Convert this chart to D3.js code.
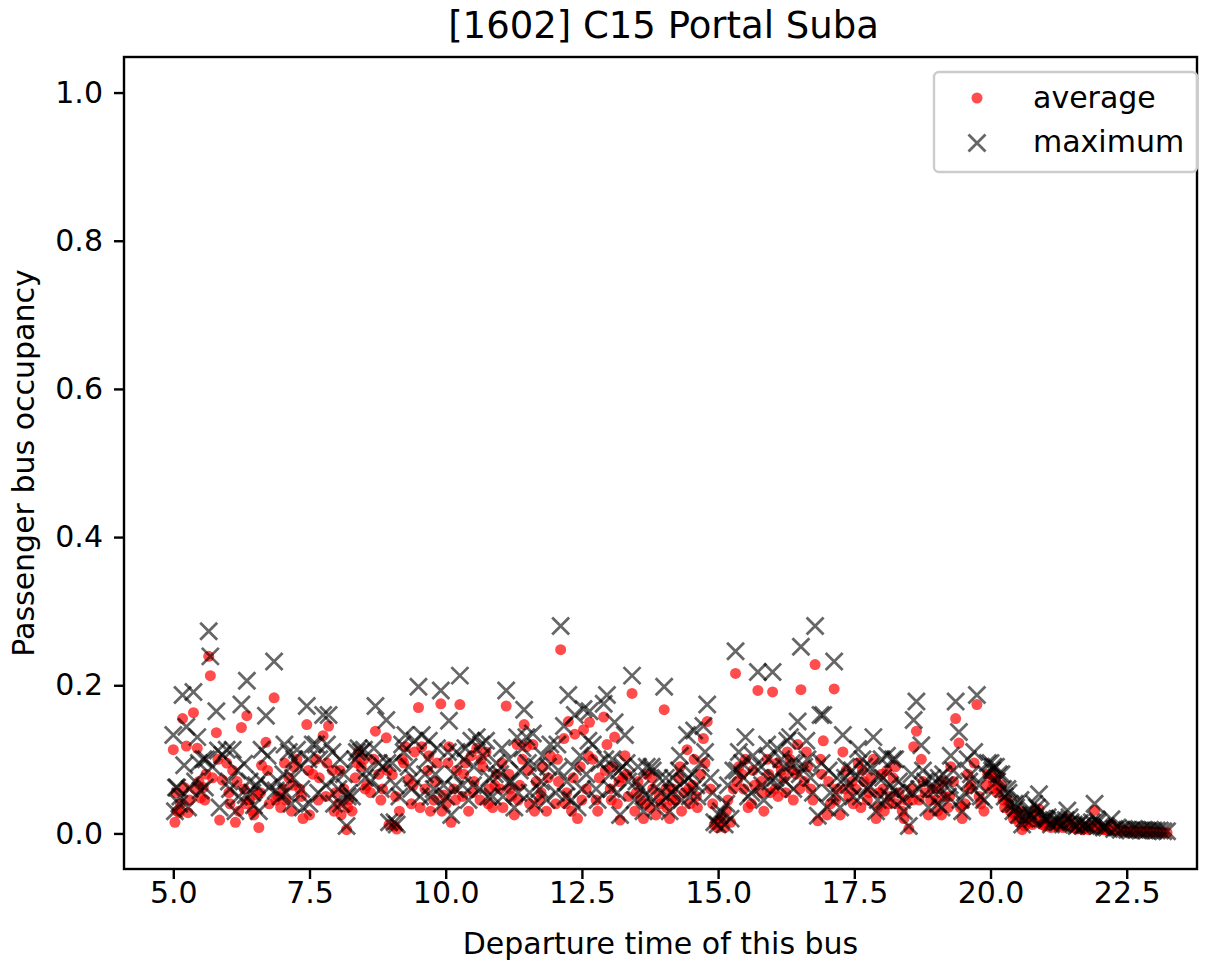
<!DOCTYPE html>
<html>
<head>
<meta charset="utf-8">
<script src="https://d3js.org/d3.v7.min.js"></script>
<style>
  html, body { margin: 0; padding: 0; background: #fff; }
  svg { display: block; font-family: "DejaVu Sans", sans-serif; }
</style>
</head>
<body>
<div id="chart"></div>
<script>
// DATA — one entry per bus departure (hour of day), occupancy ratio
const departures = [
  5.00,5.03,5.07,5.11,5.17,5.20,5.24,5.30,5.37,5.40,5.44,5.50,5.55,5.60,5.65,5.68,5.79,5.85,
  5.90,5.98,6.04,6.09,6.14,6.20,6.25,6.30,6.35,6.40,6.45,6.52,6.57,6.62,6.70,6.76,6.85,6.92,
  6.97,7.02,7.07,7.12,7.17,7.22,7.27,7.32,7.38,7.45,7.50,7.56,7.62,7.68,7.75,7.80,7.85,7.92,
  7.98,8.03,8.08,8.13,8.18,8.22,8.28,8.34,8.40,8.45,8.50,8.55,8.62,8.71,8.77,8.84,8.91,8.96,
  9.02,9.06,9.10,9.15,9.20,9.26,9.32,9.37,9.43,9.50,9.56,9.62,9.67,9.72,9.78,9.84,9.91,9.96,
  10.01,10.06,10.10,10.15,10.20,10.26,10.31,10.36,10.42,10.47,10.52,10.57,10.63,10.68,10.74,10.80,10.86,10.93,
  11.00,11.05,11.11,11.16,11.21,11.26,11.31,11.36,11.41,11.44,11.48,11.54,11.60,11.66,11.72,11.78,11.85,11.92,
  12.02,12.07,12.11,12.17,12.22,12.25,12.31,12.37,12.42,12.47,12.53,12.58,12.64,12.70,12.76,12.82,12.90,12.96,
  13.02,13.06,13.10,13.15,13.20,13.25,13.29,13.35,13.42,13.47,13.53,13.58,13.63,13.69,13.75,13.80,13.86,13.92,
  14.01,14.06,14.11,14.17,14.22,14.28,14.33,14.38,14.43,14.48,14.53,14.56,14.62,14.68,14.73,14.80,14.86,14.93,
  14.99,15.05,15.12,15.18,15.23,15.28,15.32,15.38,15.44,15.50,15.55,15.61,15.67,15.73,15.79,15.84,15.90,15.96,
  16.00,16.05,16.10,16.16,16.21,16.27,16.32,16.38,16.43,16.46,16.52,16.58,16.64,16.70,16.78,16.83,16.88,16.93,
  17.00,17.06,17.13,17.18,17.24,17.29,17.35,17.40,17.46,17.52,17.57,17.62,17.68,17.74,17.80,17.85,17.90,17.95,
  18.00,18.05,18.10,18.16,18.21,18.27,18.32,18.38,18.44,18.50,18.55,18.59,18.64,18.69,18.73,18.80,18.86,18.93,
  19.00,19.05,19.10,19.16,19.22,19.27,19.32,19.36,19.42,19.48,19.53,19.58,19.64,19.70,19.75,19.82,19.88,19.95,
  20.00,20.05,20.10,20.15,20.20,20.26,20.31,20.36,20.42,20.47,20.52,20.58,20.63,20.69,20.74,20.80,20.85,20.89,
  20.95,21.00,21.05,21.11,21.16,21.22,21.27,21.33,21.38,21.41,21.47,21.53,21.58,21.64,21.69,21.75,21.80,21.86,
  21.91,21.97,22.03,22.08,22.14,22.22,22.27,22.33,22.39,22.45,22.51,22.57,22.63,22.69,22.75,22.81,22.87,22.93,22.99,23.05,23.11,23.17,23.24,
  // second route variant, same day
  5.05,5.13,5.27,5.47,5.58,5.72,5.82,
  6.02,6.17,6.33,6.48,6.60,6.73,6.88,
  7.04,7.20,7.35,7.48,7.66,7.82,7.95,
  8.06,8.20,8.37,8.52,8.68,8.81,8.93,
  9.08,9.23,9.40,9.53,9.69,9.81,9.93,
  10.04,10.18,10.33,10.50,10.65,10.78,10.90,
  11.03,11.18,11.33,11.51,11.63,11.75,11.88,
  12.05,12.20,12.34,12.50,12.62,12.79,12.93,
  13.04,13.18,13.32,13.50,13.66,13.78,13.95,
  14.04,14.14,14.30,14.46,14.60,14.76,14.90,
  15.02,15.15,15.35,15.47,15.64,15.81,15.93,
  16.08,16.24,16.35,16.50,16.62,16.74,16.90,
  17.03,17.16,17.33,17.48,17.65,17.77,17.93,
  18.03,18.13,18.25,18.41,18.57,18.76,18.90,
  19.03,19.13,19.25,19.45,19.61,19.79,19.92,
  20.03,20.12,20.23,20.33,20.44,20.55,20.66,20.77,20.92,21.03,21.25,21.45,21.72,21.95,22.11
];

const averageOcc = [
  0.113,0.015,0.030,0.028,0.155,0.062,0.118,0.045,0.163,0.060,0.115,0.048,0.062,0.080,0.239,0.213,0.136,0.018,
  0.072,0.095,0.040,0.085,0.015,0.030,0.143,0.060,0.159,0.045,0.030,0.052,0.008,0.092,0.123,0.040,0.183,0.050,
  0.035,0.060,0.045,0.075,0.030,0.090,0.100,0.060,0.020,0.147,0.025,0.080,0.100,0.075,0.132,0.050,0.145,0.085,
  0.055,0.040,0.025,0.060,0.005,0.045,0.030,0.075,0.110,0.090,0.100,0.065,0.055,0.138,0.080,0.060,0.129,0.012,
  0.079,0.010,0.006,0.030,0.100,0.117,0.073,0.040,0.110,0.170,0.117,0.060,0.085,0.030,0.045,0.095,0.175,0.052,
  0.040,0.117,0.015,0.060,0.085,0.174,0.050,0.095,0.030,0.105,0.070,0.115,0.045,0.090,0.110,0.060,0.035,0.080,
  0.060,0.035,0.172,0.080,0.050,0.025,0.120,0.065,0.100,0.147,0.117,0.040,0.120,0.070,0.045,0.090,0.030,0.105,
  0.040,0.070,0.248,0.128,0.055,0.151,0.030,0.134,0.020,0.090,0.140,0.060,0.150,0.100,0.045,0.075,0.157,0.120,
  0.060,0.090,0.130,0.040,0.018,0.075,0.105,0.050,0.189,0.030,0.070,0.045,0.020,0.080,0.035,0.060,0.025,0.050,
  0.167,0.035,0.020,0.060,0.045,0.075,0.030,0.055,0.113,0.040,0.065,0.100,0.035,0.080,0.128,0.151,0.060,0.012,
  0.008,0.020,0.008,0.045,0.015,0.060,0.216,0.090,0.080,0.100,0.035,0.040,0.065,0.193,0.070,0.030,0.100,0.055,
  0.191,0.060,0.050,0.085,0.075,0.110,0.100,0.045,0.080,0.120,0.194,0.070,0.090,0.060,0.228,0.017,0.100,0.125,
  0.025,0.040,0.195,0.060,0.025,0.110,0.085,0.050,0.070,0.060,0.095,0.035,0.070,0.045,0.075,0.100,0.020,0.055,
  0.080,0.030,0.085,0.050,0.075,0.040,0.055,0.030,0.045,0.006,0.060,0.117,0.138,0.045,0.100,0.055,0.025,0.060,
  0.045,0.060,0.025,0.050,0.035,0.090,0.070,0.155,0.122,0.020,0.040,0.080,0.065,0.095,0.174,0.040,0.030,0.080,
  0.080,0.070,0.075,0.060,0.065,0.035,0.045,0.030,0.020,0.025,0.015,0.005,0.010,0.020,0.015,0.030,0.025,0.033,
  0.012,0.010,0.015,0.008,0.012,0.010,0.015,0.008,0.012,0.020,0.010,0.008,0.006,0.010,0.005,0.008,0.005,0.010,
  0.031,0.008,0.006,0.005,0.004,0.012,0.004,0.005,0.003,0.004,0.003,0.002,0.004,0.003,0.002,0.003,0.002,0.003,0.002,0.002,0.002,0.001,0.001,
  // second route variant
  0.055,0.040,0.028,0.070,0.045,0.075,0.100,
  0.055,0.070,0.040,0.025,0.055,0.085,0.045,
  0.095,0.065,0.050,0.085,0.045,0.095,0.030,
  0.085,0.035,0.095,0.060,0.100,0.045,0.085,
  0.050,0.095,0.065,0.035,0.105,0.070,0.030,
  0.095,0.045,0.080,0.055,0.100,0.040,0.065,
  0.095,0.060,0.045,0.085,0.030,0.055,0.075,
  0.100,0.040,0.075,0.045,0.105,0.030,0.085,
  0.045,0.070,0.080,0.055,0.040,0.075,0.040,
  0.060,0.045,0.090,0.060,0.050,0.095,0.040,
  0.018,0.030,0.070,0.060,0.085,0.055,0.080,
  0.095,0.055,0.085,0.060,0.110,0.045,0.080,
  0.070,0.045,0.060,0.040,0.085,0.055,0.035,
  0.060,0.040,0.090,0.020,0.045,0.070,0.045,
  0.030,0.070,0.050,0.035,0.060,0.050,0.065,
  0.060,0.055,0.045,0.040,0.025,0.030,0.015,0.012,0.018,0.012,0.010,0.015,0.008,0.012,0.006
];

const maximumOcc = [
  0.133,0.030,0.062,0.040,0.187,0.092,0.144,0.060,0.191,0.070,0.130,0.058,0.100,0.100,0.273,0.239,0.165,0.035,
  0.106,0.113,0.060,0.113,0.030,0.050,0.174,0.094,0.206,0.070,0.055,0.065,0.030,0.113,0.159,0.062,0.232,0.070,
  0.050,0.080,0.055,0.110,0.040,0.100,0.113,0.090,0.035,0.172,0.040,0.120,0.120,0.100,0.160,0.065,0.160,0.110,
  0.075,0.060,0.040,0.080,0.010,0.055,0.050,0.100,0.115,0.110,0.113,0.085,0.070,0.172,0.095,0.090,0.153,0.015,
  0.095,0.015,0.012,0.050,0.120,0.133,0.090,0.060,0.125,0.198,0.133,0.080,0.100,0.050,0.060,0.115,0.193,0.065,
  0.050,0.152,0.025,0.080,0.110,0.213,0.065,0.115,0.045,0.125,0.090,0.130,0.060,0.105,0.125,0.075,0.050,0.095,
  0.080,0.050,0.193,0.100,0.070,0.035,0.130,0.085,0.115,0.167,0.130,0.055,0.135,0.090,0.060,0.105,0.045,0.120,
  0.055,0.085,0.280,0.145,0.070,0.187,0.045,0.160,0.035,0.105,0.168,0.080,0.165,0.120,0.060,0.095,0.175,0.187,
  0.080,0.100,0.150,0.055,0.025,0.090,0.133,0.070,0.213,0.045,0.090,0.060,0.030,0.090,0.050,0.085,0.035,0.075,
  0.198,0.050,0.030,0.075,0.060,0.085,0.045,0.070,0.133,0.050,0.080,0.139,0.050,0.095,0.145,0.174,0.075,0.015,
  0.012,0.030,0.012,0.065,0.020,0.085,0.246,0.110,0.095,0.130,0.050,0.055,0.090,0.218,0.090,0.045,0.120,0.070,
  0.218,0.075,0.065,0.100,0.090,0.125,0.130,0.060,0.095,0.151,0.252,0.090,0.100,0.075,0.280,0.024,0.160,0.160,
  0.035,0.055,0.232,0.075,0.035,0.133,0.090,0.065,0.085,0.075,0.114,0.050,0.090,0.060,0.090,0.130,0.030,0.075,
  0.100,0.045,0.105,0.065,0.100,0.055,0.070,0.045,0.060,0.010,0.080,0.153,0.178,0.060,0.119,0.070,0.035,0.075,
  0.060,0.075,0.035,0.065,0.050,0.105,0.085,0.178,0.137,0.030,0.055,0.100,0.080,0.110,0.187,0.050,0.045,0.095,
  0.095,0.090,0.090,0.080,0.080,0.050,0.060,0.040,0.030,0.035,0.025,0.012,0.020,0.030,0.025,0.040,0.035,0.053,
  0.020,0.020,0.022,0.012,0.018,0.015,0.020,0.012,0.018,0.031,0.015,0.012,0.010,0.014,0.010,0.012,0.010,0.015,
  0.040,0.015,0.010,0.008,0.008,0.019,0.006,0.008,0.005,0.006,0.005,0.004,0.006,0.005,0.004,0.005,0.004,0.005,0.004,0.004,0.004,0.003,0.003,
  // second route variant
  0.062,0.050,0.035,0.095,0.062,0.090,0.112,
  0.070,0.085,0.052,0.038,0.072,0.105,0.058,
  0.120,0.075,0.060,0.100,0.055,0.120,0.040,
  0.100,0.050,0.110,0.075,0.115,0.060,0.095,
  0.065,0.110,0.075,0.050,0.125,0.080,0.040,
  0.110,0.060,0.100,0.065,0.120,0.050,0.080,
  0.115,0.070,0.055,0.095,0.040,0.070,0.090,
  0.120,0.050,0.090,0.060,0.125,0.045,0.100,
  0.060,0.085,0.095,0.070,0.052,0.090,0.055,
  0.075,0.055,0.105,0.075,0.065,0.110,0.055,
  0.025,0.040,0.085,0.075,0.105,0.065,0.100,
  0.115,0.070,0.095,0.080,0.125,0.055,0.095,
  0.085,0.055,0.075,0.050,0.100,0.065,0.045,
  0.075,0.050,0.100,0.030,0.055,0.085,0.060,
  0.040,0.080,0.065,0.045,0.070,0.065,0.080,
  0.085,0.070,0.060,0.055,0.040,0.045,0.025,0.020,0.030,0.018,0.015,0.022,0.012,0.018,0.010
];

const xTicks = [5.0, 7.5, 10.0, 12.5, 15.0, 17.5, 20.0, 22.5];
const yTicks = [0.0, 0.2, 0.4, 0.6, 0.8, 1.0];
const seriesNames = ["average", "maximum"];
const chartTitle = "[1602] C15 Portal Suba";
const xLabel = "Departure time of this bus";
const yLabel = "Passenger bus occupancy";

// LAYOUT
const largeur = 1209, hauteur = 966;
const plot = { left: 124, right: 1197, top: 57, bottom: 869 };
const FONT = 30;

const x = d3.scaleLinear().domain([4.095, 23.79]).range([plot.left, plot.right]);
const y = d3.scaleLinear().domain([-0.048, 1.048]).range([plot.bottom, plot.top]);

const svg = d3.select("#chart").append("svg")
    .attr("width", largeur).attr("height", hauteur);

const n = Math.min(departures.length, averageOcc.length, maximumOcc.length);
const buses = d3.range(n).map(i => ({ t: departures[i], avg: averageOcc[i], max: maximumOcc[i] }));

const xMark = s => `M${-s},${-s}L${s},${s}M${-s},${s}L${s},${-s}`;

// Points — average first, maximum on top
const gPts = svg.append("g");
gPts.selectAll(".avg").data(buses).join("circle")
    .attr("class", "avg")
    .attr("cx", d => x(d.t)).attr("cy", d => y(d.avg))
    .attr("r", 5.5)
    .attr("fill", "red").attr("fill-opacity", 0.7);

gPts.selectAll(".max").data(buses).join("path")
    .attr("class", "max")
    .attr("transform", d => `translate(${x(d.t)},${y(d.max)})`)
    .attr("d", xMark(8.5))
    .attr("fill", "none")
    .attr("stroke", "black").attr("stroke-opacity", 0.6).attr("stroke-width", 2.8);

// Axes
const xAxis = svg.append("g")
    .attr("transform", `translate(0,${plot.bottom})`)
    .call(d3.axisBottom(x).tickValues(xTicks).tickFormat(d3.format(".1f")).tickSize(10).tickPadding(3));
const yAxis = svg.append("g")
    .attr("transform", `translate(${plot.left},0)`)
    .call(d3.axisLeft(y).tickValues(yTicks).tickFormat(d3.format(".1f")).tickSize(10).tickPadding(11));

[xAxis, yAxis].forEach(a => {
  a.select(".domain").remove();
  a.selectAll(".tick line").attr("stroke", "black").attr("stroke-width", 2.4);
  a.selectAll(".tick text").attr("fill", "black")
      .style("font-size", FONT + "px").style("font-family", "DejaVu Sans");
});

// Frame
svg.append("rect")
    .attr("x", plot.left).attr("y", plot.top)
    .attr("width", plot.right - plot.left).attr("height", plot.bottom - plot.top)
    .attr("fill", "none").attr("stroke", "black").attr("stroke-width", 2.4);

// Titles
svg.append("text")
    .attr("x", (plot.left + plot.right) / 2 + 3).attr("y", 38)
    .attr("text-anchor", "middle").style("font-size", "37px")
    .text(chartTitle);

svg.append("text")
    .attr("x", (plot.left + plot.right) / 2).attr("y", 954)
    .attr("text-anchor", "middle").style("font-size", FONT + "px")
    .text(xLabel);

svg.append("text")
    .attr("transform", `translate(34,${(plot.top + plot.bottom) / 2}) rotate(-90)`)
    .attr("text-anchor", "middle").style("font-size", FONT + "px")
    .text(yLabel);

// Legend
const leg = svg.append("g");
leg.append("rect")
    .attr("x", 934).attr("y", 72).attr("width", 263).attr("height", 100).attr("rx", 5)
    .attr("fill", "white").attr("fill-opacity", 0.8)
    .attr("stroke", "#cccccc").attr("stroke-width", 2.4);
leg.append("circle")
    .attr("cx", 977).attr("cy", 98).attr("r", 5.5)
    .attr("fill", "red").attr("fill-opacity", 0.7);
leg.append("path")
    .attr("transform", "translate(977,143)")
    .attr("d", xMark(8.5))
    .attr("fill", "none").attr("stroke", "black").attr("stroke-opacity", 0.6).attr("stroke-width", 2.8);
leg.selectAll(".lab").data(seriesNames).join("text")
    .attr("class", "lab")
    .attr("x", 1033).attr("y", (d, i) => i === 0 ? 108 : 152)
    .style("font-size", FONT + "px")
    .text(d => d);
</script>
</body>
</html>
